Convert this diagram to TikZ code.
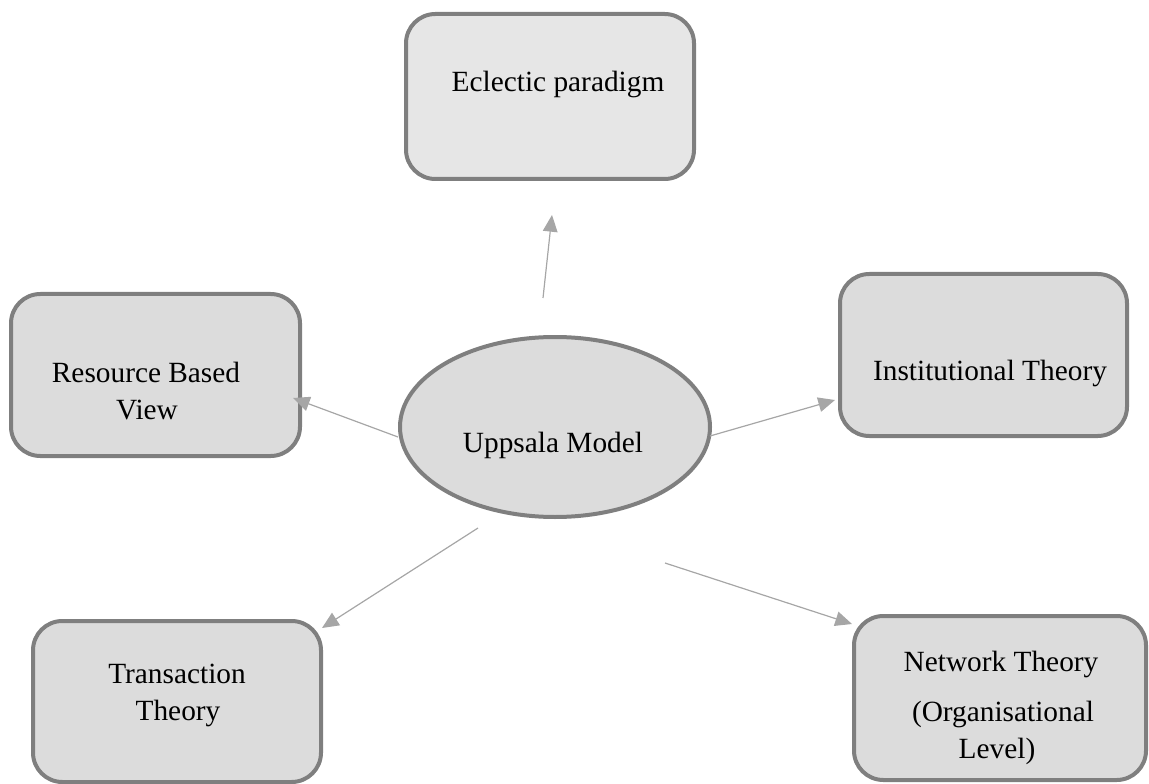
\documentclass[tikz,border=0pt]{standalone}
\usepackage{fontspec}
\setmainfont{Liberation Serif}
\usetikzlibrary{arrows.meta,shapes.geometric}
\definecolor{edgegray}{HTML}{7F7F7F}
\definecolor{boxfill}{HTML}{DCDCDC}
\definecolor{boxlight}{HTML}{E6E6E6}
\definecolor{arrowgray}{HTML}{A6A6A6}
\tikzset{
  theorybox/.style={draw=edgegray, fill=boxfill, line width=3pt, rounded corners=22pt,
    inner sep=0pt, outer sep=0pt, minimum width=#1},
  lbl/.style={anchor=base, inner sep=0pt, font=\fontsize{22pt}{27pt}\selectfont},
  link/.style={draw=arrowgray, line width=0.9pt, -{Triangle[length=12.5pt,width=11pt]}}
}
\begin{document}
\begin{tikzpicture}[x=0.75pt, y=-0.75pt]
\useasboundingbox (0,0) rectangle (1149,784);

% central model
\node[ellipse, draw=edgegray, fill=boxfill, line width=3pt, inner sep=0pt,
      minimum width=232.5pt, minimum height=135pt] (upp) at (555,427) {};
\node[lbl] (uppT) at (553,452) {Uppsala Model};

% surrounding theories
\node[theorybox=216pt, fill=boxlight, minimum height=123.75pt] (ecl) at (550,96.5) {};
\node[lbl] (eclT) at (558,92) {Eclectic paradigm};

\node[theorybox=216.75pt, minimum height=121.5pt] (rbv) at (155.5,375) {};
\node[lbl] (rbvT1) at (146,382) {Resource Based};
\node[lbl] (rbvT2) at (147,419) {View};

\node[theorybox=215.25pt, minimum height=121.5pt] (inst) at (983.5,355) {};
\node[lbl] (instT) at (990,380) {Institutional Theory};

\node[theorybox=216pt, minimum height=120.75pt] (trans) at (177,701.5) {};
\node[lbl] (transT1) at (177,683) {Transaction};
\node[lbl] (transT2) at (178,720) {Theory};

\node[theorybox=219pt, minimum height=123pt] (net) at (1000,698) {};
\node[lbl] (netT1) at (1001,671) {Network Theory};
\node[lbl] (netT2) at (1003,721) {(Organisational};
\node[lbl] (netT3) at (997,758) {Level)};

% connector end points
\coordinate (eclFrom) at (543,298);   \coordinate (eclTo) at (552,215);
\coordinate (rbvFrom) at (398,437);   \coordinate (rbvTo) at (293,398);
\coordinate (instFrom) at (710,436);  \coordinate (instTo) at (835,400);
\coordinate (transFrom) at (478,528); \coordinate (transTo) at (322,628);
\coordinate (netFrom) at (665,563);   \coordinate (netTo) at (852,624);

\draw[link] (eclFrom) -- (eclTo);
\draw[link] (rbvFrom) -- (rbvTo);
\draw[link] (instFrom) -- (instTo);
\draw[link] (transFrom) -- (transTo);
\draw[link] (netFrom) -- (netTo);
\end{tikzpicture}
\end{document}
